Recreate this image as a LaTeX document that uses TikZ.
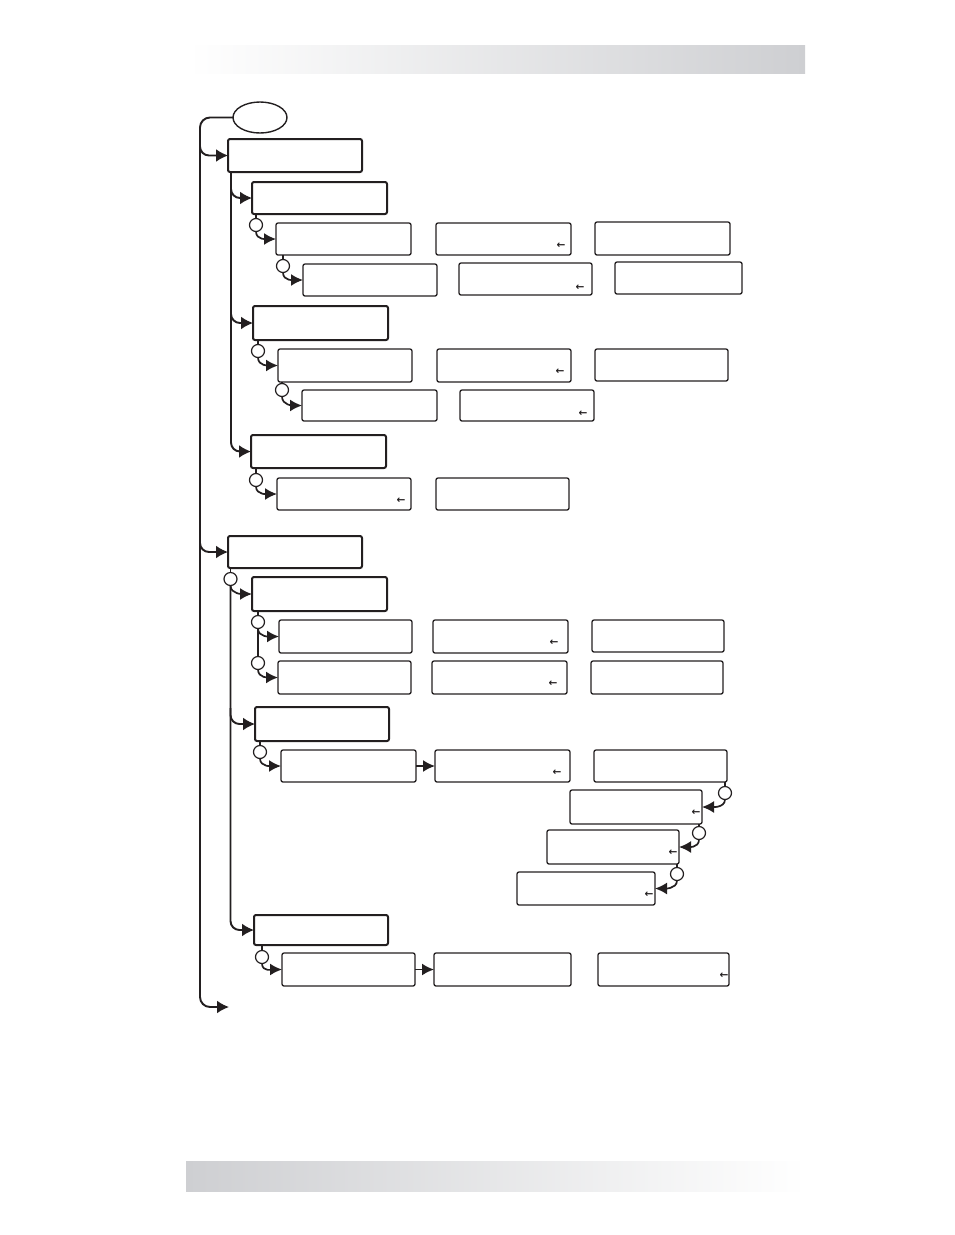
\documentclass[tikz,border=0pt]{standalone}
\usepackage{fontspec}
\usetikzlibrary{arrows.meta,calc,shapes.geometric}
\newfontfamily\djv{DejaVu Sans}
\definecolor{ink}{RGB}{35,31,32}
\definecolor{barg}{RGB}{206,207,210}
\newcommand\bx[6][]{\node[box,#1,minimum width={(#5-#3)*1pt},minimum height={(#6-#4)*1pt}] (#2) at ({(#3+#5)/2},{(#4+#6)/2}) {};}
\newcommand\ach[3]{\node[achar] (#1) at (#2,#3) {←};}
\newcommand\crc[3]{\node[circ] (#1) at (#2,#3) {};}
\begin{document}
\begin{tikzpicture}[x=1pt,y=-1pt,
  box/.style={draw=ink, rounded corners=2pt, line width=1.3pt, inner sep=0pt, outer sep=0pt},
  tbox/.style={line width=2pt},
  circ/.style={circle, draw=ink, line width=1.2pt, minimum size=13pt, inner sep=0pt, outer sep=0pt, fill=white},
  achar/.style={font=\djv\bfseries\fontsize{10.5}{10.5}\selectfont, text=ink, inner sep=0pt},
  conn/.style={draw=ink, line width=1.9pt, -{Latex[length=12pt,width=13pt]}, rounded corners=9pt},
  sconn/.style={draw=ink, line width=1.7pt, -{Latex[length=12pt,width=12pt]}},
  link/.style={draw=ink, line width=1.5pt}]
\useasboundingbox (0,0) rectangle (954,1235);
% bars
\shade[left color=white, right color=barg] (188,45) rectangle (805,73);
\shade[left color=barg, right color=white] (186,1161) rectangle (806,1191);
% start ellipse
\node[draw=ink, ellipse, line width=1.4pt, minimum width=54pt, minimum height=31pt, inner sep=0pt, outer sep=0pt] (top) at (260,117.5) {};
% boxes
\bx[tbox]{b1}{228}{139}{362}{172}
\bx[tbox]{b2a}{252}{182}{387}{214}
\bx{b3a}{276}{223}{411}{255}
\bx{b3b}{436}{223}{571}{255}
\bx{b3c}{595}{222}{730}{255}
\bx{b4a}{303}{264}{437}{296}
\bx{b4b}{459}{263}{592}{295}
\bx{b4c}{615}{262}{742}{294}
\bx[tbox]{b2b}{253}{306}{388}{340}
\bx{b5a}{278}{349}{412}{382}
\bx{b5b}{437}{349}{571}{382}
\bx{b5c}{595}{349}{728}{381}
\bx{b6a}{302}{390}{437}{421}
\bx{b6b}{460}{390}{594}{421}
\bx[tbox]{b2c}{251}{435}{386}{468}
\bx{b7a}{277}{478}{411}{510}
\bx{b7b}{436}{478}{569}{510}
\bx[tbox]{b1b}{228}{536}{362}{568}
\bx[tbox]{b2d}{252}{577}{387}{611}
\bx{b8a}{279}{620}{412}{653}
\bx{b8b}{433}{620}{568}{653}
\bx{b8c}{592}{620}{724}{652}
\bx{b9a}{278}{661}{411}{694}
\bx{b9b}{432}{661}{567}{694}
\bx{b9c}{591}{661}{723}{694}
\bx[tbox]{b2e}{255}{707}{389}{741}
\bx{b10a}{281}{750}{416}{782}
\bx{b10b}{435}{750}{570}{782}
\bx{b10c}{594}{750}{727}{782}
\bx{b11}{570}{790}{702}{824}
\bx{b12}{547}{830}{679}{864}
\bx{b13}{517}{872}{655}{905}
\bx[tbox]{b2f}{254}{915}{388}{945}
\bx{b14a}{282}{953}{415}{986}
\bx{b14b}{434}{953}{571}{986}
\bx{b14c}{598}{953}{729}{986}
% small arrow characters
\ach{a3b}{561}{246}
\ach{a4b}{580}{288}
\ach{a5b}{560}{372}
\ach{a6b}{583}{414}
\ach{a7a}{401}{501}
\ach{a8b}{554}{643}
\ach{a9b}{553}{684}
\ach{a10b}{557}{773}
\ach{a11}{696}{813}
\ach{a12}{673}{853}
\ach{a13}{649}{895}
\ach{a14c}{724}{976}
% circles
\crc{c3}{256}{225}
\crc{c4}{283}{266}
\crc{c5}{258}{351}
\crc{c6}{282}{390}
\crc{c7}{256}{480}
\crc{cL}{230.5}{579}
\crc{c8}{258}{622}
\crc{c9}{258}{663}
\crc{c10}{260}{752}
\crc{cA}{725}{793}
\crc{cB}{699}{833}
\crc{cC}{677}{874}
\crc{c14}{262}{957}
% main line
\coordinate (mc) at (200,1007);
\coordinate (mend) at (229,1007);
\draw[conn,rounded corners=10pt] (top.west) -| (mc) -- (mend);
\draw[conn] ([yshift=16pt]b1.west -| mc) |- (b1.west);
\draw[conn] ([yshift=16pt]b1b.west -| mc) |- (b1b.west);
% group 1 level-2 line
\coordinate (g1) at ([xshift=3pt]b1.south west);
\draw[conn] (g1) |- (b2c.west);
\draw[conn] ([yshift=16pt]b2a.west -| g1) |- (b2a.west);
\draw[conn] ([yshift=16pt]b2b.west -| g1) |- (b2b.west);
% group 2 level-2 line
\draw[link] (b1b.south -| cL) -- (cL.north);
\draw[conn] (cL.south) |- (b2f.west);
\draw[conn] ([yshift=16pt]b2e.west -| cL) |- (b2e.west);
\draw[sconn] (cL.south) .. controls +(0,9) and +(-8,0) .. (b2d.west);
% circle links
\draw[link] (b2a.south -| c3) -- (c3.north);
\draw[sconn] (c3.south) .. controls +(0,9) and +(-8,0) .. (b3a.west);
\draw[link] (b3a.south -| c4) -- (c4.north);
\draw[sconn] (c4.south) .. controls +(0,9) and +(-8,0) .. (b4a.west);
\draw[link] (b2b.south -| c5) -- (c5.north);
\draw[sconn] (c5.south) .. controls +(0,9) and +(-8,0) .. (b5a.west);
\draw[link] (b5a.south -| c6) -- (c6.north);
\draw[sconn] (c6.south) .. controls +(0,9) and +(-8,0) .. (b6a.west);
\draw[link] (b2c.south -| c7) -- (c7.north);
\draw[sconn] (c7.south) .. controls +(0,9) and +(-8,0) .. (b7a.west);
\draw[link] (b2d.south -| c8) -- (c8.north);
\draw[sconn] (c8.south) .. controls +(0,9) and +(-8,0) .. (b8a.west);
\draw[link] (c8.south) -- (c9.north);
\draw[sconn] (c9.south) .. controls +(0,9) and +(-8,0) .. (b9a.west);
\draw[link] (b2e.south -| c10) -- (c10.north);
\draw[sconn] (c10.south) .. controls +(0,9) and +(-8,0) .. (b10a.west);
\draw[link] (b2f.south -| c14) -- (c14.north);
\draw[sconn] (c14.south) .. controls +(0,9) and +(-8,0) .. (b14a.west);
% right chain
\draw[link] (b10c.south -| cA) -- (cA.north);
\draw[sconn] (cA.south) .. controls +(0,9) and +(8,0) .. (b11.east);
\draw[link] (b11.south -| cB) -- (cB.north);
\draw[sconn] (cB.south) .. controls +(0,9) and +(8,0) .. (b12.east);
\draw[link] (b12.south -| cC) -- (cC.north);
\draw[sconn] (cC.south) .. controls +(0,9) and +(8,0) .. (b13.east);
% horizontal arrows
\draw[sconn] (b10a.east) -- (b10b.west);
\draw[sconn] (b14a.east) -- (b14b.west);
\end{tikzpicture}
\end{document}
